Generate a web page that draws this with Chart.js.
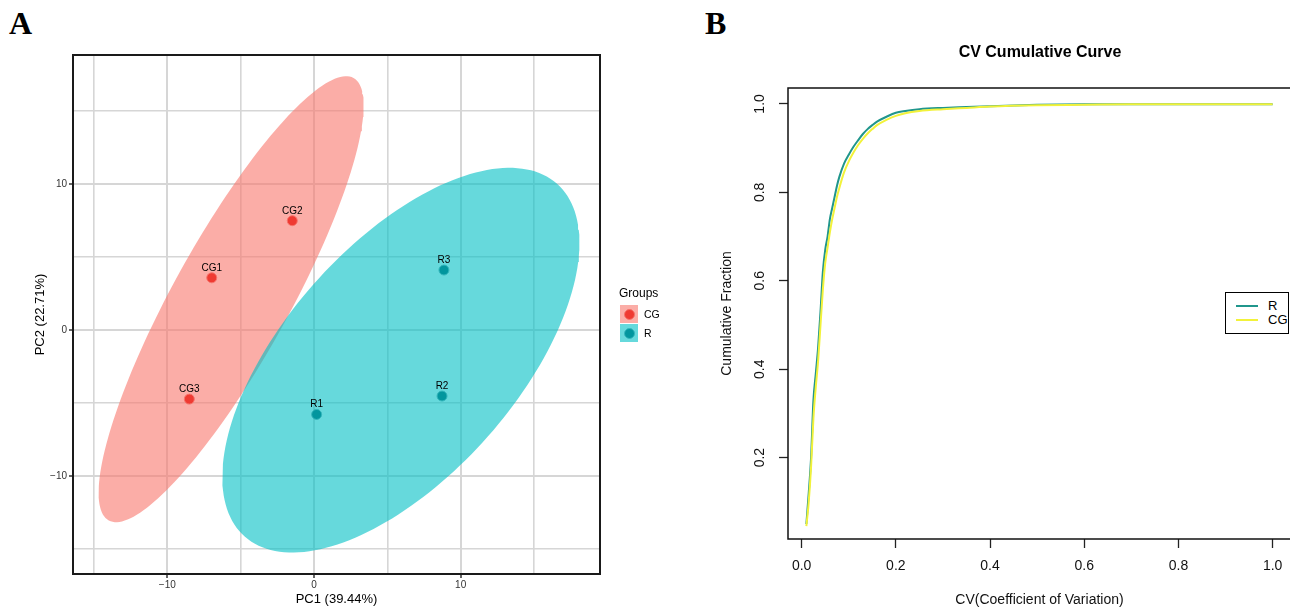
<!DOCTYPE html>
<html><head><meta charset="utf-8">
<script src="https://cdn.jsdelivr.net/npm/chart.js@4.4.1/dist/chart.umd.min.js"></script>
<style>
html,body{margin:0;padding:0;background:#fff;width:1290px;height:607px;overflow:hidden;position:relative;font-family:"Liberation Sans",Arial,sans-serif;color:#000;}
.abs{position:absolute;white-space:nowrap;}
#cA{position:absolute;left:0;top:0;width:700px;height:607px;}
#cB{position:absolute;left:700px;top:0;width:600px;height:607px;}
.letter{position:absolute;font-family:"Liberation Serif","Times New Roman",serif;font-weight:bold;font-size:32px;line-height:32px;}
.key{position:absolute;width:18px;height:18px;}
.key span{position:absolute;left:3.5px;top:3.5px;width:9px;height:9px;border-radius:50%;border:1px solid;}
</style></head><body>
<div class="letter" style="left:9px;top:7px">A</div>
<div class="letter" style="left:705px;top:7px">B</div>
<canvas id="cA" width="700" height="607"></canvas>
<canvas id="cB" width="600" height="607"></canvas>

<!-- Panel A legend -->
<div class="abs" style="left:619px;top:285px;font-size:12px;line-height:16px;">Groups</div>
<div class="key" style="left:620px;top:305px;background:rgba(248,118,109,0.6)"><span style="background:#EF3A32;border-color:#F5736B"></span></div>
<div class="key" style="left:620px;top:324px;background:rgba(0,191,196,0.6)"><span style="background:#02969E;border-color:#34B6BC"></span></div>
<div class="abs" style="left:644px;top:308px;font-size:10.5px;line-height:12px;">CG</div>
<div class="abs" style="left:644px;top:327px;font-size:10.5px;line-height:12px;">R</div>

<!-- Panel B title & legend -->
<div class="abs" style="left:890px;width:300px;text-align:center;top:43px;font-size:16px;line-height:18px;font-weight:bold;">CV Cumulative Curve</div>
<div class="abs" style="left:1225px;top:292px;width:64px;height:42px;box-sizing:border-box;border:1.5px solid #000;background:#fff;"></div>
<div class="abs" style="left:1236px;top:305px;width:22px;height:2px;background:#20968C;"></div>
<div class="abs" style="left:1236px;top:319px;width:22px;height:2px;background:#F2F23A;"></div>
<div class="abs" style="left:1268px;top:299px;font-size:13px;line-height:14px;">R</div>
<div class="abs" style="left:1268px;top:313px;font-size:13px;line-height:14px;">CG</div>

<script>
// ================= Panel A: PCA data =================
const cgSamples = ['CG1', 'CG2', 'CG3'];
const cgPC1 = [-6.97, -1.48, -8.50];
const cgPC2 = [3.58, 7.49, -4.73];
const rSamples = ['R1', 'R2', 'R3'];
const rPC1 = [0.18, 8.73, 8.86];
const rPC2 = [-5.78, -4.52, 4.11];
const pcaTicks = [-15, -10, -5, 0, 5, 10, 15];
const pcaMajorTicks = [-10, 0, 10];
const ellipseChi2 = 5.991; // qchisq(0.95, df = 2): 95% normal confidence ellipse

// ================= Panel B: CV cumulative data =================
const cvValues  = [0.01, 0.015, 0.02, 0.025, 0.03, 0.035, 0.04, 0.045, 0.05, 0.055, 0.06, 0.065, 0.07, 0.075, 0.08, 0.09, 0.10, 0.11, 0.12, 0.13, 0.14, 0.15, 0.16, 0.18, 0.20, 0.22, 0.25, 0.30, 0.35, 0.40, 0.50, 0.60, 0.70, 0.80, 0.90, 1.00];
const cumFracR  = [0.05, 0.12, 0.20, 0.33, 0.39, 0.45, 0.53, 0.62, 0.67, 0.70, 0.74, 0.765, 0.79, 0.815, 0.835, 0.865, 0.885, 0.903, 0.918, 0.932, 0.943, 0.952, 0.960, 0.971, 0.980, 0.984, 0.988, 0.991, 0.993, 0.995, 0.998, 0.999, 0.999, 0.999, 0.999, 0.999];
const cumFracCG = [0.045, 0.10, 0.18, 0.29, 0.36, 0.42, 0.50, 0.58, 0.64, 0.675, 0.71, 0.74, 0.765, 0.79, 0.81, 0.845, 0.87, 0.89, 0.907, 0.921, 0.933, 0.943, 0.952, 0.964, 0.973, 0.979, 0.984, 0.988, 0.991, 0.994, 0.997, 0.998, 0.999, 0.999, 0.999, 0.999];
const cvTicks   = [0, 0.2, 0.4, 0.6, 0.8, 1.0];
const fracTicks = [0.2, 0.4, 0.6, 0.8, 1.0];

// ---------- helpers ----------
function mean(a) { return a.reduce((s, v) => s + v, 0) / a.length; }
function confEllipse(xs, ys, chi2, nSeg) {
  const m = xs.length, mx = mean(xs), my = mean(ys);
  let sxx = 0, syy = 0, sxy = 0;
  for (let i = 0; i < m; i++) {
    const dx = xs[i] - mx, dy = ys[i] - my;
    sxx += dx * dx; syy += dy * dy; sxy += dx * dy;
  }
  sxx /= (m - 1); syy /= (m - 1); sxy /= (m - 1);
  const tr = sxx + syy, det = sxx * syy - sxy * sxy;
  const disc = Math.sqrt(Math.max(tr * tr / 4 - det, 0));
  const l1 = tr / 2 + disc, l2 = tr / 2 - disc;
  const th = Math.atan2(l1 - sxx, sxy);
  const a = Math.sqrt(chi2 * l1), b = Math.sqrt(chi2 * Math.max(l2, 0));
  const pts = [];
  for (let k = 0; k <= nSeg; k++) {
    const t = 2 * Math.PI * k / nSeg;
    const ex = a * Math.cos(t), ey = b * Math.sin(t);
    pts.push({ x: mx + ex * Math.cos(th) - ey * Math.sin(th), y: my + ex * Math.sin(th) + ey * Math.cos(th) });
  }
  return pts;
}
const toXY = (xs, ys) => xs.map((x, i) => ({ x: x, y: ys[i] }));
const fmtPCA = v => pcaMajorTicks.includes(v) ? (v < 0 ? '\u2212' + Math.abs(v) : String(v)) : '';
const isMajor = ctx => ctx.tick && pcaMajorTicks.includes(ctx.tick.value);

// ---------- plugins ----------
const pointLabels = {
  id: 'pointLabels',
  afterDatasetsDraw(chart) {
    const ctx = chart.ctx;
    chart.data.datasets.forEach((ds, i) => {
      if (!ds.sampleNames) return;
      const meta = chart.getDatasetMeta(i);
      ctx.save();
      ctx.font = '10px "Liberation Sans", Arial, sans-serif';
      ctx.fillStyle = '#000';
      ctx.textAlign = 'center';
      ctx.textBaseline = 'alphabetic';
      meta.data.forEach((el, j) => ctx.fillText(ds.sampleNames[j], el.x, el.y - 7));
      ctx.restore();
    });
  }
};
const panelBox = {
  id: 'panelBox',
  afterDraw(chart, args, opts) {
    const a = chart.chartArea, ctx = chart.ctx;
    ctx.save();
    ctx.strokeStyle = opts.color || '#000';
    ctx.lineWidth = opts.width || 1;
    ctx.strokeRect(a.left, a.top, a.right - a.left, a.bottom - a.top);
    ctx.restore();
  }
};

// ================= Chart A =================
new Chart(document.getElementById('cA'), {
  type: 'scatter',
  data: {
    datasets: [
      { label: 'CG', data: toXY(cgPC1, cgPC2), sampleNames: cgSamples, order: 0,
        pointRadius: 5, pointBackgroundColor: '#EF3A32', pointBorderColor: '#F5736B', pointBorderWidth: 1 },
      { label: 'R', data: toXY(rPC1, rPC2), sampleNames: rSamples, order: 0,
        pointRadius: 5, pointBackgroundColor: '#02969E', pointBorderColor: '#34B6BC', pointBorderWidth: 1 },
      { type: 'line', label: 'R ellipse', data: confEllipse(rPC1, rPC2, ellipseChi2, 180), order: 1,
        showLine: true, fill: 'shape', backgroundColor: 'rgba(0,191,196,0.6)', borderWidth: 0, borderColor: 'rgba(0,0,0,0)', pointRadius: 0, tension: 0 },
      { type: 'line', label: 'CG ellipse', data: confEllipse(cgPC1, cgPC2, ellipseChi2, 180), order: 2,
        showLine: true, fill: 'shape', backgroundColor: 'rgba(248,118,109,0.6)', borderWidth: 0, borderColor: 'rgba(0,0,0,0)', pointRadius: 0, tension: 0 }
    ]
  },
  options: {
    responsive: false, animation: false, devicePixelRatio: 1, events: [],
    layout: { padding: { left: 0, top: 55, right: 100, bottom: 0 } },
    plugins: { legend: { display: false }, tooltip: { enabled: false }, panelBox: { color: '#1a1a1a', width: 2 } },
    scales: {
      x: {
        type: 'linear', min: -16.43, max: 19.50,
        afterBuildTicks: s => { s.ticks = pcaTicks.map(v => ({ value: v })); },
        afterFit: s => { s.height = 33; },
        grid: { color: '#D6D6D6', lineWidth: c => isMajor(c) ? 2 : 1.6, drawTicks: true, tickLength: 4,
                tickColor: c => isMajor(c) ? '#333' : 'rgba(0,0,0,0)', tickWidth: 1.5 },
        border: { display: false },
        ticks: { autoSkip: false, maxRotation: 0, padding: 1, color: '#333', font: { size: 10, family: '"Liberation Sans", Arial' }, callback: v => fmtPCA(v) },
        title: { display: true, text: 'PC1 (39.44%)', color: '#000', font: { size: 13, family: '"Liberation Sans", Arial' }, padding: { top: 0, bottom: 0 } }
      },
      y: {
        type: 'linear', min: -16.71, max: 18.84,
        afterBuildTicks: s => { s.ticks = pcaTicks.map(v => ({ value: v })); },
        afterFit: s => { s.width = 73; },
        grid: { color: '#D6D6D6', lineWidth: c => isMajor(c) ? 2 : 1.6, drawTicks: true, tickLength: 4,
                tickColor: c => isMajor(c) ? '#333' : 'rgba(0,0,0,0)', tickWidth: 1.5 },
        border: { display: false },
        ticks: { autoSkip: false, padding: 2, color: '#333', font: { size: 10, family: '"Liberation Sans", Arial' }, callback: v => fmtPCA(v) },
        title: { display: true, text: 'PC2 (22.71%)', color: '#000', font: { size: 13, family: '"Liberation Sans", Arial' }, padding: { top: 33, bottom: 0 } }
      }
    }
  },
  plugins: [pointLabels, panelBox]
});

// ================= Chart B =================
new Chart(document.getElementById('cB'), {
  type: 'line',
  data: {
    datasets: [
      { label: 'CG', data: toXY(cvValues, cumFracCG), order: 0, borderColor: '#F2F23A', borderWidth: 2,
        pointRadius: 0, fill: false, cubicInterpolationMode: 'monotone' },
      { label: 'R', data: toXY(cvValues, cumFracR), order: 1, borderColor: '#20968C', borderWidth: 2,
        pointRadius: 0, fill: false, cubicInterpolationMode: 'monotone' }
    ]
  },
  options: {
    responsive: false, animation: false, devicePixelRatio: 1, events: [],
    layout: { padding: { left: 0, top: 88, right: 9, bottom: 0 } },
    plugins: { legend: { display: false }, tooltip: { enabled: false }, panelBox: { color: '#111', width: 1.5 } },
    scales: {
      x: {
        type: 'linear', min: -0.029, max: 1.039,
        afterBuildTicks: s => { s.ticks = cvTicks.map(v => ({ value: v })); },
        afterFit: s => { s.height = 68; },
        grid: { drawOnChartArea: false, drawTicks: true, tickLength: 9, tickColor: '#222', tickWidth: 1.3 },
        border: { display: false },
        ticks: { autoSkip: false, maxRotation: 0, padding: 10, color: '#111', font: { size: 14, family: '"Liberation Sans", Arial' }, callback: v => v.toFixed(1) },
        title: { display: true, text: 'CV(Coefficient of Variation)', color: '#111', font: { size: 14, family: '"Liberation Sans", Arial', lineHeight: 1 }, padding: { top: 0, bottom: 0 } }
      },
      y: {
        type: 'linear', min: 0.016, max: 1.036,
        afterBuildTicks: s => { s.ticks = fracTicks.map(v => ({ value: v })); },
        afterFit: s => { s.width = 88; },
        grid: { drawOnChartArea: false, drawTicks: true, tickLength: 9, tickColor: '#222', tickWidth: 1.3 },
        border: { display: false },
        ticks: { autoSkip: false, minRotation: 90, maxRotation: 90, crossAlign: 'center', padding: 9, color: '#111', font: { size: 14, family: '"Liberation Sans", Arial' }, callback: v => v.toFixed(1) },
        title: { display: true, text: 'Cumulative Fraction', color: '#111', font: { size: 14, family: '"Liberation Sans", Arial' }, padding: { top: 19, bottom: 0 } }
      }
    }
  },
  plugins: [panelBox]
});
</script>
</body></html>
